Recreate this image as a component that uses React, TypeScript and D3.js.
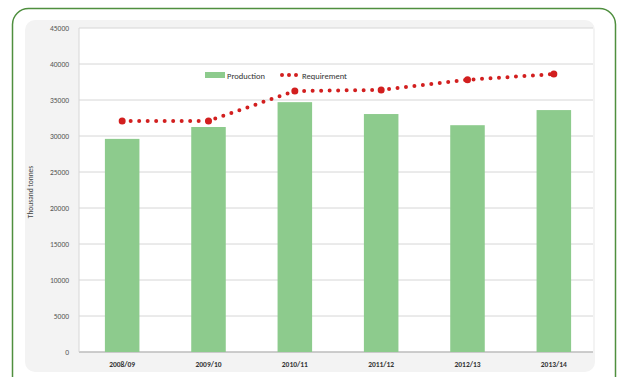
import React from "react";
import * as d3 from "d3";

const categories = ["2008/09", "2009/10", "2010/11", "2011/12", "2012/13", "2013/14"];
const production = [29600, 31250, 34700, 33050, 31500, 33600];
const requirement = [32100, 32100, 36250, 36400, 37800, 38600];
const yTicks = [0, 5000, 10000, 15000, 20000, 25000, 30000, 35000, 40000, 45000];

const W = 618;
const H = 377;
const plotLeft = 79;
const plotRight = 597;
const plotTop = 28;
const plotBottom = 352;

export default function App() {
  const x = d3.scaleBand<string>().domain(categories).range([plotLeft, plotRight]).paddingInner(0.6).paddingOuter(0.3);
  const y = d3.scaleLinear().domain([0, 45000]).range([plotBottom, plotTop]);
  const cx = (c: string) => (x(c) as number) + x.bandwidth() / 2;
  const line = d3
    .line<number>()
    .x((_, i) => cx(categories[i]))
    .y((d) => y(d));
  const ff = "Calibri, Carlito, 'Open Sans', 'DejaVu Sans', sans-serif";
  return (
    <svg width={W} height={H} style={{ position: "absolute", left: 0, top: 0, display: "block" }}>
      <rect x={0} y={0} width={W} height={H} fill="#ffffff" />
      <rect x={12.5} y={8.5} width={603} height={390} rx={16} fill="#ffffff" stroke="#4f8f3f" strokeWidth={1.5} />
      <rect x={25} y={20} width={570} height={352} rx={10} fill="#f3f3f3" />
      <rect x={plotLeft} y={plotTop} width={plotRight - 4 - plotLeft} height={plotBottom - plotTop} fill="#ffffff" />
      {yTicks.map((t) => (
        <g key={t}>
          <line x1={plotLeft} x2={plotRight - 4} y1={y(t)} y2={y(t)} stroke={t === 0 ? "#bdbdbd" : "#d6d6d6"} strokeWidth={t === 0 ? 1.5 : 1} />
          <text x={69} y={y(t) + 3} textAnchor="end" fontSize={7.5} fill="#555" fontFamily={ff}>
            {t}
          </text>
        </g>
      ))}
      <line x1={plotLeft} x2={plotLeft} y1={plotTop} y2={plotBottom} stroke="#d6d6d6" />
      {categories.map((c, i) => (
        <rect key={c} x={x(c)} y={y(production[i])} width={x.bandwidth()} height={plotBottom - y(production[i])} fill="#8dcb8d" />
      ))}
      <path d={line(requirement) || ""} fill="none" stroke="#d21f1f" strokeWidth={4} strokeLinecap="round" strokeDasharray="0 8.5" />
      {categories.map((c, i) => (
        <circle key={c} cx={cx(c)} cy={y(requirement[i])} r={3.5} fill="#d21f1f" />
      ))}
      {categories.map((c) => (
        <text key={c} x={cx(c)} y={367} textAnchor="middle" fontSize={7.5} fontWeight="bold" fill="#333" fontFamily={ff}>
          {c}
        </text>
      ))}
      <text transform="translate(33,192) rotate(-90)" textAnchor="middle" fontSize={7.5} fill="#444" fontFamily={ff}>
        Thousand tonnes
      </text>
      <g fontFamily={ff} fontSize={8.5} fill="#333">
        <rect x={205} y={72} width={20} height={6} fill="#8dcb8d" />
        <text x={227} y={78.5}>Production</text>
        <line x1={282} x2={300} y1={75} y2={75} stroke="#d21f1f" strokeWidth={4} strokeLinecap="round" strokeDasharray="0 7" />
        <text x={302} y={78.5}>Requirement</text>
      </g>
    </svg>
  );
}
